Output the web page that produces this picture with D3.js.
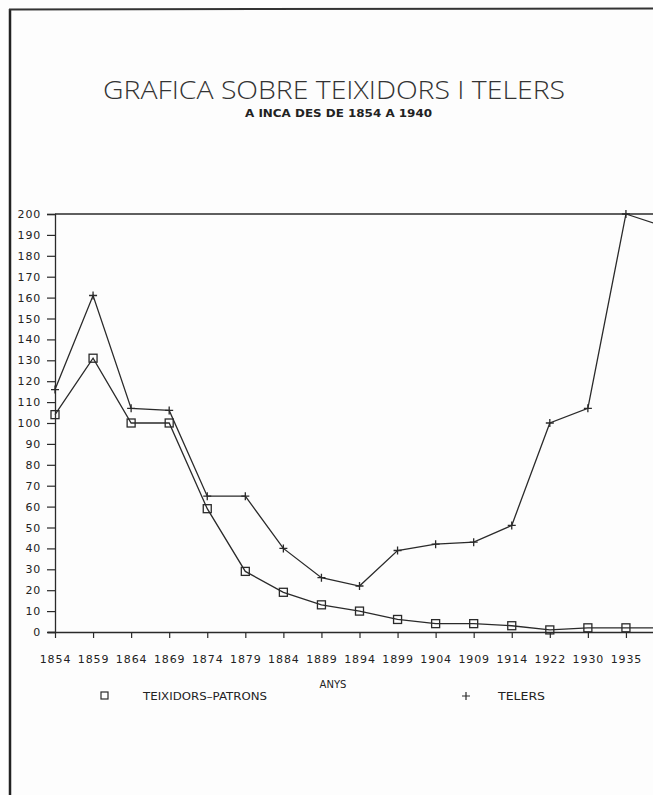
<!DOCTYPE html>
<html>
<head>
<meta charset="utf-8">
<script src="https://cdn.jsdelivr.net/npm/d3@7"></script>
<style>
html,body{margin:0;padding:0;background:#fdfdfd;}
svg{display:block;}
</style>
</head>
<body>
<svg id="chart" width="653" height="795"></svg>
<script>
// Data
const years = ["1854","1859","1864","1869","1874","1879","1884","1889","1894","1899","1904","1909","1914","1922","1930","1935","1940"];
const tickYears = ["1854","1859","1864","1869","1874","1879","1884","1889","1894","1899","1904","1909","1914","1922","1930","1935"];
const teixidors = [104,131,100,100,59,29,19,13,10,6,4,4,3,1,2,2,2];
const telers = [116,161,107,106,65,65,40,26,22,39,42,43,51,100,107,200,194];
const yTicks = d3.range(0, 201, 10);
const titleText = "GRAFICA SOBRE TEIXIDORS I TELERS";
const subtitleText = "A INCA DES DE 1854 A 1940";
const xTitle = "ANYS";
const legendNames = ["TEIXIDORS\u2013PATRONS", "TELERS"];

const svg = d3.select("#chart");
const ink = "#2a2a2a";
const font = "DejaVu Sans, sans-serif";

// page frame
svg.append("line").attr("x1",10).attr("x2",10).attr("y1",9).attr("y2",795).attr("stroke","#222").attr("stroke-width",2.5);
svg.append("line").attr("x1",9).attr("x2",653).attr("y1",9.5).attr("y2",8.5).attr("stroke","#333").attr("stroke-width",2);

// titles
svg.append("text").attr("x",103).attr("y",99).attr("textLength",462).attr("lengthAdjust","spacingAndGlyphs")
  .attr("font-family","Open Sans, DejaVu Sans, sans-serif").attr("font-weight",300).attr("font-size",25).attr("fill","#333").text(titleText);
svg.append("text").attr("x",245).attr("y",117).attr("textLength",187).attr("lengthAdjust","spacingAndGlyphs")
  .attr("font-family",font).attr("font-weight","bold").attr("font-size",10.5).attr("fill","#222").text(subtitleText);

// scales
const x = d3.scalePoint().domain(years).range([55, 664]);
const y = d3.scaleLinear().domain([0, 200]).range([632, 214]);

// top frame line of plot
svg.append("line").attr("x1",55).attr("x2",653).attr("y1",y(200)).attr("y2",y(200)).attr("stroke",ink).attr("stroke-width",1.3);

// y axis
const yAxis = svg.append("g").attr("transform","translate(55,0)")
  .call(d3.axisLeft(y).tickValues(yTicks).tickSize(8).tickPadding(6).tickFormat(d3.format("d")));
yAxis.select(".domain").attr("stroke",ink).attr("stroke-width",1.3);
yAxis.selectAll(".tick line").attr("stroke",ink).attr("stroke-width",1.2);
yAxis.selectAll("text").attr("font-family",font).attr("font-size",11).attr("letter-spacing",0.8).attr("fill","#222");

// x axis
const xAxis = svg.append("g").attr("transform",`translate(0,${y(0)})`)
  .call(d3.axisBottom(x).tickValues(tickYears).tickSize(6).tickPadding(17).tickSizeOuter(0));
xAxis.select(".domain").attr("stroke",ink).attr("stroke-width",1.3).attr("d","M48,0.5H653");
xAxis.selectAll(".tick line").attr("stroke",ink).attr("stroke-width",1.2);
xAxis.selectAll("text").attr("font-family",font).attr("font-size",11).attr("letter-spacing",0.9).attr("fill","#222");

// lines
const line = d3.line().x((d,i)=>x(years[i])).y(d=>y(d));
svg.append("path").datum(teixidors).attr("d",line).attr("fill","none").attr("stroke",ink).attr("stroke-width",1.3);
svg.append("path").datum(telers).attr("d",line).attr("fill","none").attr("stroke",ink).attr("stroke-width",1.3);

// markers
svg.append("g").selectAll("rect").data(teixidors).join("rect")
  .attr("x",(d,i)=>x(years[i])-4).attr("y",d=>y(d)-4).attr("width",8).attr("height",8)
  .attr("fill","none").attr("stroke",ink).attr("stroke-width",1.3);
svg.append("g").selectAll("path").data(telers).join("path")
  .attr("transform",(d,i)=>`translate(${x(years[i])},${y(d)})`)
  .attr("d","M-4,0H4M0,-4V4").attr("stroke",ink).attr("stroke-width",1.3).attr("fill","none");

// x title
svg.append("text").attr("x",333).attr("y",688).attr("text-anchor","middle").attr("font-family",font)
  .attr("font-size",10).attr("fill","#222").text(xTitle);

// legend
svg.append("rect").attr("x",101).attr("y",692).attr("width",7).attr("height",7).attr("fill","none").attr("stroke",ink).attr("stroke-width",1.2);
svg.append("text").attr("x",143).attr("y",700).attr("textLength",124).attr("lengthAdjust","spacingAndGlyphs")
  .attr("font-family",font).attr("font-size",10).attr("fill","#222").text(legendNames[0]);
svg.append("path").attr("d","M462,696H470M466,692V700").attr("stroke",ink).attr("stroke-width",1.2);
svg.append("text").attr("x",498).attr("y",700).attr("textLength",47).attr("lengthAdjust","spacingAndGlyphs")
  .attr("font-family",font).attr("font-size",10).attr("fill","#222").text(legendNames[1]);
</script>
</body>
</html>
